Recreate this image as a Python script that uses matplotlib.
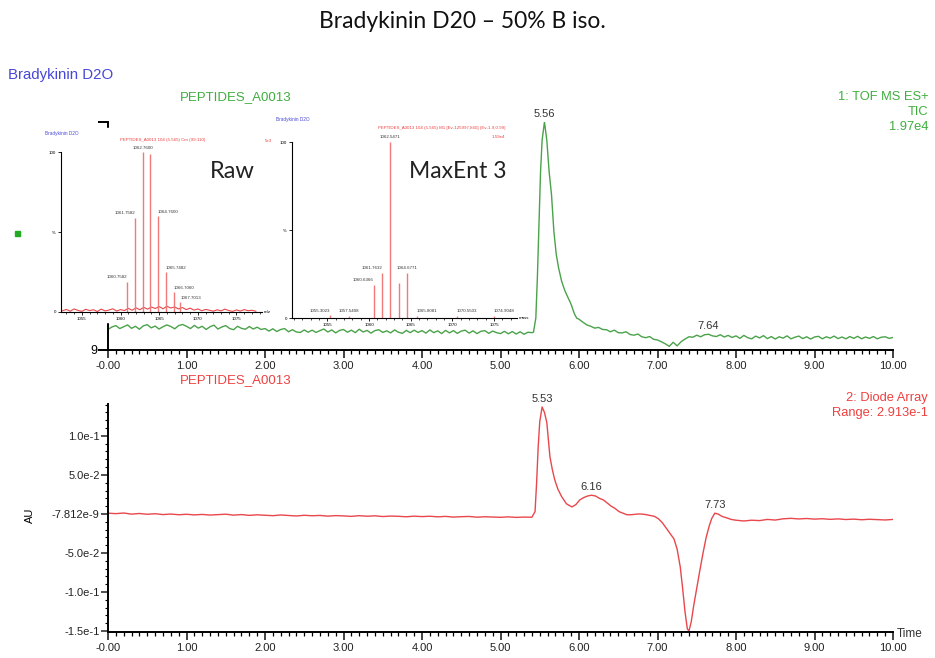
import numpy as np
import matplotlib.pyplot as plt
from matplotlib.axes import Axes
from matplotlib.patches import Rectangle
from matplotlib.ticker import MultipleLocator, FixedLocator

plt.rcParams['font.family'] = ['Liberation Sans', 'DejaVu Sans']

GREEN = '#4aa24a'
GREEN_TXT = '#3fae3f'
RED = '#e8474c'
RED_TXT = '#ee4040'
STICK = '#f07a7a'
BLUE = '#4848d8'
W, H = 935, 658

# --- TIC trace (% of 1.97e4), sampled every 0.05 min ---
tic_step = 0.05
tic_pre = [  # 0.00 .. 5.40
    9.0, 10.1, 10.7, 9.4, 10.2, 11.0, 9.5, 10.4, 9.1, 10.6,
    11.1, 9.7, 10.5, 9.2, 10.2, 11.0, 10.3, 9.3, 10.7, 11.2,
    10.4, 9.4, 10.8, 9.6, 10.4, 9.0, 10.2, 10.9, 9.2, 10.1,
    10.7, 9.4, 8.9, 10.4, 9.5, 9.1, 10.3, 9.2, 10.0, 9.0,
    9.4, 8.3, 9.3, 8.1, 9.0, 9.4, 8.0, 8.9, 7.9, 7.7,
    8.8, 7.8, 8.7, 7.7, 8.5, 9.2, 7.9, 8.8, 7.5, 8.6,
    9.0, 7.8, 8.7, 7.6, 9.1, 7.9, 8.6, 7.4, 8.5, 8.9,
    7.7, 8.4, 7.5, 8.8, 7.8, 7.3, 8.6, 7.6, 8.7, 7.7,
    8.5, 7.4, 8.8, 7.6, 8.4, 7.2, 8.6, 7.5, 8.5, 7.3,
    8.3, 8.7, 7.4, 8.4, 7.2, 8.2, 8.5, 7.3, 8.3, 7.6,
    7.2, 8.2, 7.1, 8.1, 7.0, 8.0, 6.9, 7.8, 7.6,
]
tic_peak_time = [5.42, 5.45, 5.47, 5.49, 5.51, 5.53, 5.56, 5.59, 5.62, 5.65,
                 5.68, 5.71, 5.74, 5.78, 5.82, 5.86, 5.90, 5.94, 5.97, 6.00,
                 6.05, 6.10, 6.15, 6.20, 6.25, 6.30]
tic_peak = [7.8, 14, 32, 55, 78, 92, 100, 92, 78, 68,
            52, 42, 36, 30, 26, 23, 20, 16, 14, 13.5,
            12.2, 11.0, 10.4, 9.6, 9.9, 9.0]
tic_post_start = 6.35
tic_post = [  # 6.35 .. 10.00
    8.9, 8.0, 8.7, 7.6, 7.5, 8.0, 6.8, 6.5, 7.0, 5.8,
    5.4, 5.9, 4.7, 4.4, 3.6, 2.7, 1.6, 3.4, 1.8, 3.6,
    4.8, 5.8, 5.6, 6.5, 5.8, 6.7, 6.9, 6.2, 5.9, 6.7,
    5.7, 6.4, 5.5,
    6.2, 5.1, 6.4, 5.4, 4.9, 6.1, 5.3, 6.3, 5.0, 5.9,
    4.8, 5.8, 5.2, 6.2, 4.9, 5.6, 6.1, 5.0, 5.8, 4.8,
    5.7, 6.0, 4.9, 5.8, 5.2, 6.1, 5.0, 5.7, 4.9, 5.9,
    5.1, 6.0, 4.9, 5.7, 5.1, 5.9, 4.9, 5.6, 5.8, 5.1, 5.5,
]
tic_labels = [5.56, 7.64]

# --- Diode array trace (AU) ---
dad_step = 0.1
dad_pre = [  # 0.0 .. 5.4
    0.0010, 0.0004, 0.0012, -0.0002, 0.0006, -0.0004, 0.0003, -0.0008, -0.0001, -0.0010,
    -0.0004, -0.0012, -0.0006, -0.0014, -0.0009, -0.0003, -0.0015, -0.0008, -0.0018, -0.0011,
    -0.0016, -0.0022, -0.0013, -0.0020, -0.0026, -0.0017, -0.0023, -0.0019, -0.0028, -0.0021,
    -0.0025, -0.0031, -0.0022, -0.0029, -0.0024, -0.0033, -0.0027, -0.0030, -0.0036, -0.0028,
    -0.0034, -0.0029, -0.0037, -0.0031, -0.0040, -0.0035, -0.0032, -0.0041, -0.0036, -0.0039,
    -0.0043, -0.0037, -0.0044, -0.0040, -0.0042,
]
dad_peak_time = [5.44, 5.46, 5.48, 5.50, 5.53, 5.56, 5.59, 5.61, 5.63, 5.66,
                 5.69, 5.73, 5.78, 5.84, 5.91, 5.96, 6.01, 6.06, 6.11, 6.16,
                 6.21, 6.26, 6.31, 6.36, 6.41, 6.46, 6.51, 6.56, 6.61, 6.66,
                 6.71, 6.76, 6.81, 6.86, 6.91, 6.96, 7.01, 7.06, 7.11, 7.16,
                 7.21, 7.25, 7.29, 7.32, 7.35, 7.38, 7.40, 7.43, 7.46, 7.50,
                 7.54, 7.58, 7.62, 7.66, 7.69, 7.73, 7.77, 7.82, 7.88, 7.94, 8.00]
dad_peak = [0.003, 0.040, 0.086, 0.118, 0.137, 0.130, 0.117, 0.095, 0.073, 0.057,
            0.044, 0.032, 0.022, 0.013, 0.009, 0.012, 0.018, 0.021, 0.023, 0.024,
            0.023, 0.020, 0.018, 0.014, 0.010, 0.007, 0.003, 0.001, -0.001, -0.001,
            -0.0005, 0.000, -0.0002, -0.001, -0.002, -0.003, -0.006, -0.011, -0.018, -0.025,
            -0.032, -0.045, -0.068, -0.095, -0.125, -0.147, -0.150, -0.138, -0.118, -0.095,
            -0.072, -0.050, -0.030, -0.015, -0.006, 0.001, 0.000, -0.003, -0.005, -0.007, -0.008]
dad_post_start = 8.1
dad_post = [  # 8.1 .. 10.0
    -0.0090, -0.0080, -0.0085, -0.0070, -0.0078, -0.0062, -0.0056, -0.0064, -0.0058, -0.0066,
    -0.0061, -0.0069, -0.0063, -0.0071, -0.0066, -0.0074, -0.0068, -0.0072, -0.0077, -0.0070,
]
dad_labels = [5.53, 6.16, 7.73]
dad_ticks = [0.1, 0.05, -7.812e-9, -0.05, -0.1, -0.15]
dad_tick_labels = ['1.0e-1', '5.0e-2', '-7.812e-9', '-5.0e-2', '-1.0e-1', '-1.5e-1']

time_ticks = list(range(0, 11))
time_tick_labels = ['-0.00'] + ['%.2f' % t for t in time_ticks[1:]]

# --- combined raw spectrum (m/z, %) ---
raw_mz = [1060.87, 1061.87, 1062.87, 1063.87, 1064.83, 1065.87, 1066.87, 1067.74]
raw_int = [19, 59, 100, 99, 60, 25, 12.5, 6]
raw_peak_labels = ['1060.7582', '1061.7582', '1062.7600', '', '1064.7600',
                   '1065.7482', '1066.7060', '1067.7013']
raw_noise_start = 1052.5
raw_noise = [0.8, 1.6, 0.5, 1.9, 1.0, 0.4, 1.7, 0.9, 1.4, 0.3,
             1.8, 0.7, 1.2, 2.0, 0.6, 1.5, 0.9, 2.3, 1.1, 2.6,
             1.4, 2.9, 1.8, 3.1, 2.2, 3.4, 2.0, 3.6, 2.5, 3.2,
             1.9, 2.8, 1.5, 2.4, 1.2, 1.9, 0.8, 1.6, 1.1, 0.5,
             1.4, 0.7, 1.8, 0.9, 0.4, 1.3, 0.6, 1.5, 0.8, 1.1, 0.5]

# --- MaxEnt 3 deconvoluted spectrum (mass, %) ---
ment_mass = [1055.35, 1057.55, 1060.55, 1061.55, 1062.55, 1063.55, 1064.55,
             1065.75, 1070.55, 1074.95]
ment_int = [1.5, 1.2, 19, 25.5, 100, 20, 25.5, 1.3, 1.4, 1.2]
ment_peak_labels = ['1055.3023', '1057.5408', '1060.6366', '1061.7632', '1062.5471',
                    '', '1064.6771', '1065.8081', '1070.5503', '1074.9048']


def fig_xy(x, y):
    # pixel position -> figure fraction
    return x / W, 1 - y / H


def add_axes_px(fig, left, top, right, bottom, zorder=0):
    x0, y1 = fig_xy(left, top)
    x1, y0 = fig_xy(right, bottom)
    ax = fig.add_axes([x0, y0, x1 - x0, y1 - y0])
    ax.set_zorder(zorder)
    return ax


def style_time_axis(ax: Axes):
    for side in ('top', 'right'):
        ax.spines[side].set_visible(False)
    for side in ('left', 'bottom'):
        ax.spines[side].set_linewidth(1.4)
    ax.set_xlim(0, 10)
    ax.xaxis.set_major_locator(FixedLocator(time_ticks))
    ax.set_xticklabels(time_tick_labels)
    ax.xaxis.set_minor_locator(MultipleLocator(0.1))
    ax.tick_params(axis='x', which='major', length=6, width=1.2, pad=2,
                   labelsize=8, colors='#222222')
    ax.tick_params(axis='x', which='minor', length=3, width=0.9)
    ax.patch.set_alpha(0)


def draw_spectrum(ax: Axes, mz, inten, labels, xlim, unit, aligns):
    for side in ('top', 'right'):
        ax.spines[side].set_visible(False)
    for side in ('left', 'bottom'):
        ax.spines[side].set_linewidth(0.8)
    ax.vlines(mz, 0, inten, color=STICK, lw=1.0)
    for m, v, lab, ha in zip(mz, inten, labels, aligns):
        if lab:
            ax.text(m, v + 1.5, lab, ha=ha, va='bottom', fontsize=3.2,
                    color='#333333')
    ax.set_xlim(*xlim)
    ax.set_ylim(0, 100)
    ax.xaxis.set_major_locator(MultipleLocator(5))
    ax.xaxis.set_minor_locator(MultipleLocator(1))
    ax.set_yticks([0, 50, 100])
    ax.set_yticklabels(['0', '%', '100'])
    ax.tick_params(which='major', length=2.5, width=0.6, labelsize=3.2, pad=1)
    ax.tick_params(which='minor', length=1.2, width=0.5)
    ax.text(1.01, 0, unit, transform=ax.transAxes, fontsize=3.2, va='center')
    ax.patch.set_alpha(0)


fig = plt.figure(figsize=(W / 100, H / 100), dpi=100)

# title and header texts
fig.text(*fig_xy(462, 22), 'Bradykinin D20 \u2013 50% B iso.', family=['Lato', 'DejaVu Sans'],
         fontsize=16.5, ha='center', va='center', color='#111111')
fig.text(*fig_xy(8, 75), 'Bradykinin D2O', color=BLUE, fontsize=10.8, va='center')
fig.text(*fig_xy(180, 97), 'PEPTIDES_A0013', color=GREEN_TXT, fontsize=9.5, va='center')
for y, s in zip([97, 112, 127], ['1: TOF MS ES+', 'TIC', '1.97e4']):
    fig.text(*fig_xy(928, y), s, color=GREEN_TXT, fontsize=9.3, ha='right', va='center')
fig.text(*fig_xy(180, 380), 'PEPTIDES_A0013', color=RED_TXT, fontsize=9.5, va='center')
for y, s in zip([398, 413], ['2: Diode Array', 'Range: 2.913e-1']):
    fig.text(*fig_xy(928, y), s, color=RED_TXT, fontsize=9.3, ha='right', va='center')
fig.add_artist(Rectangle(fig_xy(15, 236), 5 / W, 5 / H, transform=fig.transFigure,
                         color='#22aa22'))

# top panel: TIC
ax1 = add_axes_px(fig, 108, 122, 893, 350)
style_time_axis(ax1)
t_pre = np.arange(len(tic_pre)) * tic_step
t_post = tic_post_start + np.arange(len(tic_post)) * tic_step
tic_t = np.concatenate([t_pre, tic_peak_time, t_post])
tic_v = np.concatenate([tic_pre, tic_peak, tic_post])
ax1.plot(tic_t, tic_v, color=GREEN, lw=1.0)
ax1.set_ylim(0, 100)
ax1.set_yticks([0, 100])
ax1.set_yticklabels(['9', ''])
ax1.tick_params(axis='y', length=7, width=1.4, labelsize=9, pad=1)
for t in tic_labels:
    v = tic_v[np.argmin(np.abs(tic_t - t))]
    ax1.annotate('%.2f' % t, (t, v), xytext=(0, 2), textcoords='offset points',
                 ha='center', va='bottom', fontsize=8, color='#333333')

# bottom panel: diode array
ax2 = add_axes_px(fig, 108, 404, 893, 631.5)
style_time_axis(ax2)
d_pre = np.arange(len(dad_pre)) * dad_step
d_post = dad_post_start + np.arange(len(dad_post)) * dad_step
dad_t = np.concatenate([d_pre, dad_peak_time, d_post])
dad_v = np.concatenate([dad_pre, dad_peak, dad_post])
ax2.plot(dad_t, dad_v, color=RED, lw=1.0)
ax2.set_ylim(-0.1505, 0.1408)
ax2.yaxis.set_major_locator(FixedLocator(dad_ticks))
ax2.set_yticklabels(dad_tick_labels)
ax2.yaxis.set_minor_locator(MultipleLocator(0.01))
ax2.tick_params(axis='y', which='major', length=5, width=1.1, labelsize=8, pad=1,
                colors='#222222')
ax2.tick_params(axis='y', which='minor', length=2.5, width=0.8)
for t in dad_labels:
    v = dad_v[np.argmin(np.abs(dad_t - t))]
    ax2.annotate('%.2f' % t, (t, v), xytext=(0, 2), textcoords='offset points',
                 ha='center', va='bottom', fontsize=8, color='#333333')
fig.text(*fig_xy(30, 515), 'AU', rotation=90, fontsize=8, ha='center', va='center')
fig.text(*fig_xy(897, 634), 'Time', fontsize=8.5, va='center', color='#333333')

# white backing of the raw spectrum panel, hides the TIC axis behind it
x0, y0 = fig_xy(38, 322)
fig.add_artist(Rectangle((x0, y0), (290 - 38) / W, (322 - 128) / H,
                         transform=fig.transFigure, color='white', zorder=1))

# inset: combined raw spectrum
ax3 = add_axes_px(fig, 61, 152, 262, 312, zorder=2)
raw_x = raw_noise_start + np.arange(len(raw_noise)) * 0.5
ax3.plot(raw_x, raw_noise, color=RED, lw=0.8, clip_on=False)
draw_spectrum(ax3, raw_mz, raw_int, raw_peak_labels, (1052.3, 1078.3), 'm/z',
              ['right', 'right', 'center', 'center', 'left', 'left', 'left', 'left'])
fig.text(*fig_xy(45, 133), 'Bradykinin D2O', color=BLUE, fontsize=3.4, va='center',
         zorder=4)
fig.text(*fig_xy(120, 140), 'PEPTIDES_A0013 104 (5.565) Cm (99:110)', color=RED_TXT,
         fontsize=3.2, va='center', zorder=4)
fig.text(*fig_xy(265, 141), '5e3', color=RED_TXT, fontsize=3.2, va='center', zorder=4)
fig.text(*fig_xy(232, 172), 'Raw', family=['Lato', 'DejaVu Sans'], fontsize=17,
         ha='center', va='center', color='#222222', zorder=4)

# inset: MaxEnt 3 result
ax4 = add_axes_px(fig, 292, 142, 517, 318, zorder=2)
draw_spectrum(ax4, ment_mass, ment_int, ment_peak_labels, (1050.75, 1077.75), 'mass',
              ['right', 'center', 'right', 'right', 'center', 'center', 'center',
               'left', 'left', 'left'])
fig.text(*fig_xy(276, 120), 'Bradykinin D2O', color=BLUE, fontsize=3.4, va='center')
fig.text(*fig_xy(505, 128), 'PEPTIDES_A0013 104 (5.565) M1 [Ev-125997,It60] (Ev-1.9,0.99)',
         color=RED_TXT, fontsize=3.2, ha='right', va='center')
fig.text(*fig_xy(505, 137), '1.59e4', color=RED_TXT, fontsize=3.2, ha='right', va='center')
fig.text(*fig_xy(458, 172), 'MaxEnt 3', family=['Lato', 'DejaVu Sans'], fontsize=16.5,
         ha='center', va='center', color='#222222', zorder=4)

fig.savefig('out.png', dpi=100)
